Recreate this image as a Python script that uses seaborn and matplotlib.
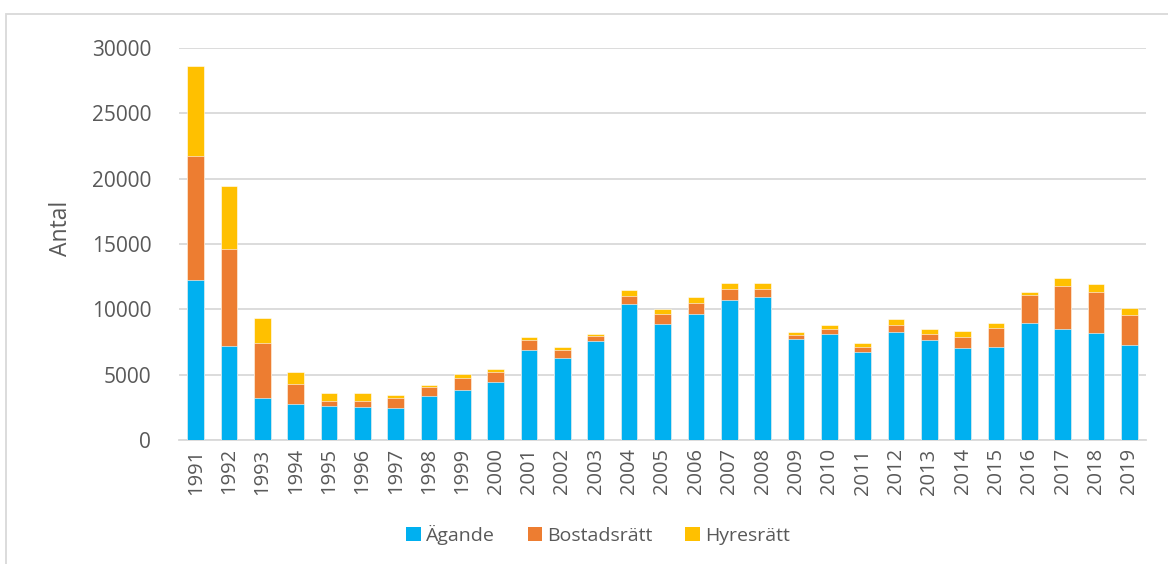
import matplotlib
matplotlib.use("Agg")
import matplotlib.pyplot as plt
import seaborn as sns
import numpy as np
import pandas as pd
from matplotlib.patches import Patch, Rectangle

years = [str(y) for y in range(1991, 2020)]
agande = [12280, 7190, 3220, 2740, 2580, 2560, 2480, 3350, 3810, 4450,
          6870, 6280, 7580, 10380, 8910, 9620, 10710, 10970, 7760, 8090,
          6720, 8300, 7630, 7020, 7150, 8930, 8470, 8190, 7250]
bostadsratt = [9470, 7420, 4180, 1510, 390, 460, 770, 690, 920, 790,
               760, 640, 360, 610, 760, 890, 870, 610, 310, 380,
               400, 530, 510, 890, 1450, 2140, 3310, 3160, 2290]
hyresratt = [6880, 4860, 1970, 940, 660, 610, 200, 180, 290, 210,
             260, 230, 150, 490, 360, 460, 430, 430, 230, 360,
             310, 430, 360, 440, 360, 250, 590, 580, 560]

series_names = ["Ägande", "Bostadsrätt", "Hyresrätt"]
colors = ["#00B0F0", "#ED7D31", "#FFC000"]

df = pd.DataFrame({"year": years, "a": agande, "b": bostadsratt, "h": hyresratt})
df["ab"] = df["a"] + df["b"]
df["abh"] = df["ab"] + df["h"]

sns.set_theme(style="white")
plt.rcParams["font.family"] = ["Open Sans", "DejaVu Sans"]

fig = plt.figure(figsize=(11.68, 5.64), dpi=100)
ax = fig.add_axes([179 / 1168, 1 - 440 / 564, (1146 - 179) / 1168, (440 - 48) / 564])

for col, c in zip(["abh", "ab", "a"], [colors[2], colors[1], colors[0]]):
    sns.barplot(data=df, x="year", y=col, color=c, width=0.5, ax=ax,
                edgecolor="white", linewidth=0.4, saturation=1, zorder=3)

ax.set_ylim(0, 30000)
ax.set_xlim(-0.5, len(years) - 0.5)
ax.set_yticks(range(0, 30001, 5000))
ax.yaxis.grid(True, color="#D9D9D9", linewidth=1.3, zorder=0)
ax.set_axisbelow(True)
for s in ["top", "right", "left"]:
    ax.spines[s].set_visible(False)
ax.spines["bottom"].set_color("#D9D9D9")
ax.spines["bottom"].set_linewidth(1.3)

ax.set_xticks(np.arange(len(years)))
ax.set_xticklabels(years, rotation=90, fontsize=14.5, color="#595959")
ax.tick_params(axis="x", length=0, pad=6)
ax.set_xticks(np.arange(len(years) + 1) - 0.5, minor=True)
ax.tick_params(axis="x", which="minor", length=7, width=1.3, color="#D9D9D9", direction="out")
ax.tick_params(axis="y", length=0, labelsize=15, labelcolor="#595959", pad=20)
ax.set_xlabel("")
ax.set_ylabel("Antal", fontsize=16.5, color="#595959")
ax.yaxis.set_label_coords((73 - 179) / (1146 - 179), (440 - 228) / (440 - 48))

handles = [Patch(facecolor=c, edgecolor="none") for c in colors]
fig.legend(handles, series_names, loc="center", bbox_to_anchor=(598 / 1168, 1 - 535 / 564),
           ncol=3, frameon=False, fontsize=14, handlelength=0.75, handleheight=0.75,
           handletextpad=0.25, columnspacing=1.7, labelcolor="#595959")

fig.patches.append(Rectangle((6 / 1168, -0.1), 1.2, 1 - 14 / 564 + 0.1, transform=fig.transFigure,
                             fill=False, edgecolor="#D9D9D9", linewidth=1.3))

fig.savefig("out.png", dpi=100)
